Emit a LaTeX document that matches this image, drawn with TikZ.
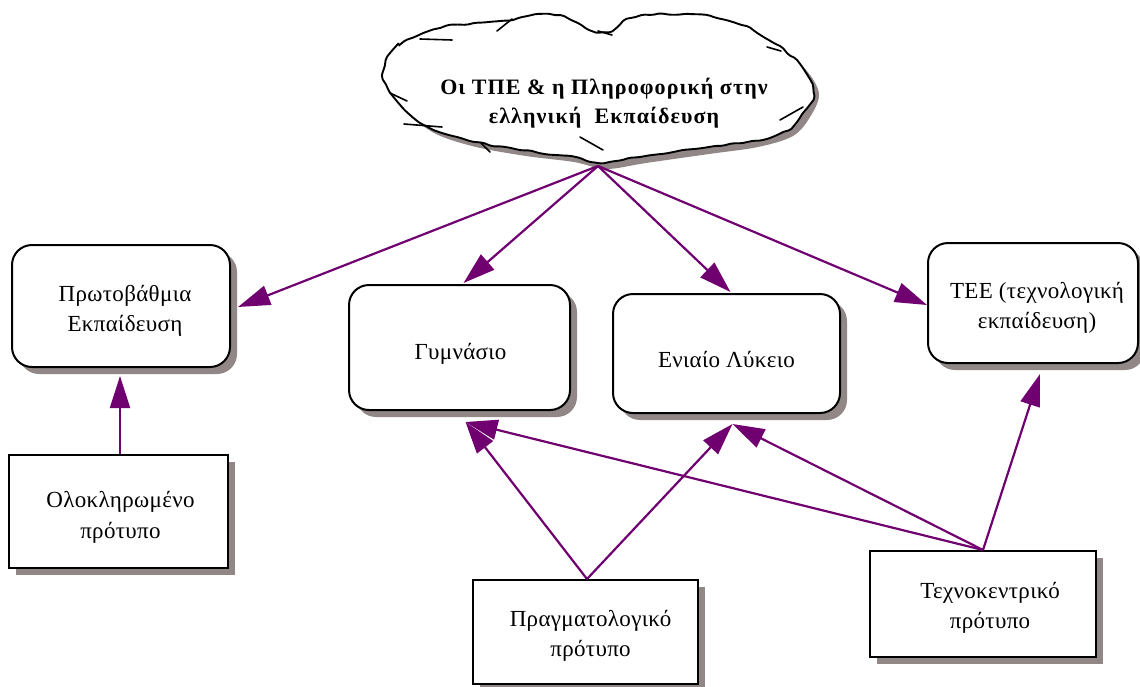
\documentclass[tikz,border=0pt]{standalone}
\usepackage{fontspec}
\setmainfont{Liberation Serif}
\usetikzlibrary{arrows.meta,decorations.pathmorphing,calc,shadows}
\definecolor{arrowpurple}{RGB}{112,0,112}
\definecolor{shadowgray}{RGB}{145,135,135}

\begin{document}
\begin{tikzpicture}[x=1pt,y=-1pt,
  boxtext/.style={font=\fontsize{23}{30.5}\selectfont\addfontfeature{LetterSpace=1.5}, align=center},
  shade/.style={drop shadow={shadow xshift=7pt,shadow yshift=-7pt,fill=shadowgray,opacity=1}},
  roundbox/.style={draw=black, line width=2pt, fill=white,
    rounded corners=20pt, inner sep=0pt, shade},
  flatbox/.style={draw=black, line width=2pt, fill=white,
    inner sep=0pt, shade},
  arr/.style={draw=arrowpurple, line width=2.2pt,
    -{Triangle[length=32pt,width=20pt]}, fill=arrowpurple},
  wrinkle/.style={draw=black, line width=1.6pt, line cap=round}
]
\useasboundingbox (0,0) rectangle (1140,686);

% cloud: shadow, outline, creases
\def\cloudpath{plot[smooth cycle, tension=0.55] coordinates {
  (384,70) (397,47) (437,29) (500,21) (552,15) (600,32) (632,18)
  (688,14) (738,24) (772,42) (800,64) (813,88) (804,111) (787,130)
  (752,141) (703,148) (640,157) (600,163) (568,156) (520,150)
  (470,141) (430,128) (403,108) (388,88)}}
\fill[shadowgray, shift={(6,6)}] \cloudpath;
\pgfmathsetseed{7}
\draw[black, line width=1.9pt, fill=white,
  decorate, decoration={random steps, segment length=9pt, amplitude=1.3pt},
  rounded corners=2pt] \cloudpath;
\draw[wrinkle] (497,31) -- (512,19);
\draw[wrinkle] (598,31) -- (612,35);
\draw[wrinkle] (420,39) -- (452,40);
\draw[wrinkle] (767,47) -- (781,51);
\draw[wrinkle] (390,93) -- (407,101);
\draw[wrinkle] (404,124) -- (442,127);
\draw[wrinkle] (481,143) -- (490,152);
\draw[wrinkle] (580,137) -- (603,150);
\draw[wrinkle] (780,120) -- (803,107);
\node[font=\fontsize{22}{28.5}\selectfont\bfseries\addfontfeature{LetterSpace=5}, align=center]
  (cloud) at (604,103)
  {Οι ΤΠΕ \& η Πληροφορική στην\\ελληνική\ \ Εκπαίδευση};
\coordinate (cloudtip) at (598,166);

% school levels
\node[roundbox, minimum width=218pt, minimum height=122pt] (prim) at (121,306) {};
\node[roundbox, minimum width=221pt, minimum height=125pt] (gym) at (459.5,347.5) {};
\node[roundbox, minimum width=227pt, minimum height=119pt] (lyk) at (726.5,353.5) {};
\node[roundbox, minimum width=210pt, minimum height=120pt] (tee) at (1033,303) {};

% models
\node[flatbox, minimum width=219pt, minimum height=113pt] (olo) at (118.5,511.5) {};
\node[flatbox, minimum width=225pt, minimum height=104pt] (prag) at (585.5,632) {};
\node[flatbox, minimum width=226pt, minimum height=106pt] (tech) at (983,604) {};

% box labels, set a little below each box centre
\node[boxtext] (primtext) at ($(prim.center)+(4,5)$) {Πρωτοβάθμια\\Εκπαίδευση};
\node[boxtext] (gymtext) at ($(gym.center)+(1,6)$) {Γυμνάσιο};
\node[boxtext] (lyktext) at ($(lyk.center)+(0,6)$) {Ενιαίο Λύκειο};
\node[boxtext] (teetext) at ($(tee.center)+(4,5)$) {ΤΕΕ (τεχνολογική\\εκπαίδευση)};
\node[boxtext] (olotext) at ($(olo.center)+(2,6)$) {Ολοκληρωμένο\\πρότυπο};
\node[boxtext] (pragtext) at ($(prag.center)+(5,4)$) {Πραγματολογικό\\πρότυπο};
\node[boxtext] (techtext) at ($(tech.center)+(7,4)$) {Τεχνοκεντρικό\\πρότυπο};

% connectors
\draw[arr] (cloudtip) -- ($(prim.east)+(7,1)$);
\draw[arr] (cloudtip) -- ($(gym.north)+(4,-1)$);
\draw[arr] (cloudtip) -- ($(lyk.north)+(4,-1)$);
\draw[arr] (cloudtip) -- ($(tee.west)+(0,2)$);
\draw[arr] ($(olo.north)+(1.5,0)$) -- ($(prim.south)+(-1,8)$);
\draw[arr] ($(prag.north)+(1.5,0)$) -- ($(gym.south)+(6,11)$);
\draw[arr] ($(prag.north)+(1.5,0)$) -- ($(lyk.south)+(6,10)$);
\draw[arr] (tech.north) -- ($(gym.south)+(6,11)$);
\draw[arr] (tech.north) -- ($(lyk.south)+(6,10)$);
\draw[arr] (tech.north) -- ($(tee.south)+(7,10)$);
\end{tikzpicture}
\end{document}
